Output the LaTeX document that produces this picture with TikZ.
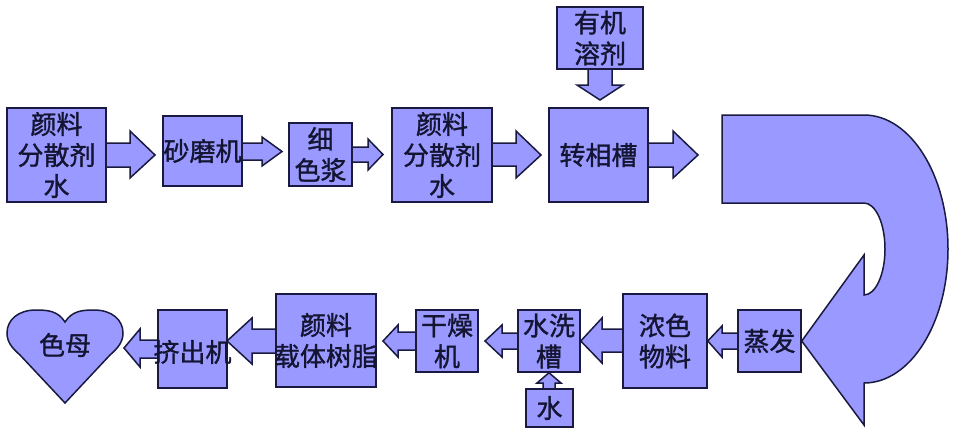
\documentclass[tikz,border=0pt]{standalone}
\usepackage{fontspec}
\newfontfamily\cjk{Noto Sans CJK SC}[FakeBold=1.2]
\usetikzlibrary{calc,backgrounds}
\definecolor{boxfill}{HTML}{9999FF}
\definecolor{boxline}{HTML}{1A1A40}
\definecolor{boxtext}{HTML}{141433}
% box: name, x1, y1, x2, y2, text
\newcommand\procbox[6]{%
  \node[box, minimum width={#4-#2}, minimum height={#5-#3}] (#1) at ({(#2+#4)/2},{(#3+#5)/2}) {};
  \node[lbl] (#1-t) at (#1.center) {#6};
}
% horizontal block arrow: start anchor, tip, shaft top, shaft bottom, head top, head bottom, head base x
\newcommand\harr[7]{%
  \begin{pgfonlayer}{background}
  \draw[blk] (#1 |- 0,#3) -- (#7,#3) -- (#7,#5) -- (#2) -- (#7,#6) -- (#7,#4) -- (#1 |- 0,#4);
  \end{pgfonlayer}
}
% vertical block arrow: start anchor, tip, shaft left, shaft right, head left, head right, head base y
\newcommand\varr[7]{%
  \begin{pgfonlayer}{background}
  \draw[blk] (#1 -| #3,0) -- (#3,#7) -- (#5,#7) -- (#2) -- (#6,#7) -- (#4,#7) -- (#1 -| #4,0);
  \end{pgfonlayer}
}
\begin{document}
\begin{tikzpicture}[x=1pt, y=-1pt,
  box/.style={draw=boxline, fill=boxfill, line width=1.5pt, inner sep=0pt},
  lbl/.style={text=boxtext, font=\cjk\fontsize{26}{31}\selectfont, align=center, inner sep=0pt},
  blk/.style={draw=boxline, fill=boxfill, line width=1.5pt, line join=miter}]
\useasboundingbox (0,0) rectangle (959,437);
\begin{pgfonlayer}{background}
\fill[white] (0,0) rectangle (959,437);
\end{pgfonlayer}

% top row
\procbox{b1}{7}{108}{106}{202}{颜料\\分散剂\\水}
\procbox{b2}{163}{116}{242}{186}{砂磨机}
\procbox{b3}{289}{123}{352}{186}{细\\色浆}
\procbox{b4}{392}{108}{492}{202}{颜料\\分散剂\\水}
\procbox{b5}{549}{108}{648}{202}{转相槽}
\procbox{b6}{557}{7}{643}{69}{有机\\溶剂}

\coordinate (t1) at (155,155);
\coordinate (t2) at (282,151.5);
\coordinate (t3) at (383,154.5);
\coordinate (t4) at (541,155);
\coordinate (t5) at (698,155);
\coordinate (t6) at (600,100);
\harr{b1.east}{t1}{143}{167}{131}{178}{130}
\harr{b2.east}{t2}{143}{160}{137}{166}{262}
\harr{b3.east}{t3}{147}{162}{139}{170}{368}
\harr{b4.east}{t4}{143}{166}{131}{178}{516}
\harr{b5.east}{t5}{143}{167}{131}{178}{673}
\varr{b6.south}{t6}{588}{612}{577}{623}{85}

% bottom row
\procbox{zf}{738}{310}{801}{372}{蒸发}
\procbox{nd}{623}{294}{707}{388}{浓色\\物料}
\procbox{xx}{518}{310}{580}{372}{水洗\\槽}
\procbox{sw}{526}{389}{573}{427}{水}
\procbox{gz}{416}{310}{478}{372}{干燥\\机}
\procbox{yz}{276}{294}{376}{387}{颜料\\载体树脂}
\procbox{jc}{158}{310}{227}{388}{}
\node[lbl] (jc-t2) at (192.5,352) {挤出机};

\coordinate (t7) at (485,341);
\coordinate (t8) at (383,341);
\coordinate (t9) at (227,341);
\coordinate (t10) at (124,348);
\harr{zf.west}{nd.east}{333}{349}{326}{357}{722}
\harr{nd.west}{xx.east}{329}{352}{318}{363}{602}
\harr{xx.west}{t7}{333}{349}{325}{357}{502}
\harr{gz.west}{t8}{332}{350}{325}{357}{398}
\harr{yz.west}{t9}{329}{353}{318}{364}{252}
\harr{jc.west}{t10}{340}{358}{329}{367}{140}
\varr{sw.north}{xx.south}{543}{555}{537}{561}{383}

% curved U-turn arrow
\coordinate (cv) at (722,115);
\draw[blk] (cv) -- (864,115)
  .. controls (910.4,115) and (948,175) .. (948,249)
  .. controls (948,323) and (910.4,383) .. (864,383)
  -- (864,425) -- (zf.east) -- (864,255) -- (864,295)
  .. controls (875.6,295) and (885,274.4) .. (885,249)
  .. controls (885,223.6) and (875.6,203) .. (864,203)
  -- (722,203) -- cycle;

% heart
\draw[blk] (65,322) .. controls (58,311) and (48,310) .. (36,310)
  .. controls (18,310) and (7,320) .. (7,333)
  .. controls (7,342) and (12,348) .. (20,355)
  -- (65,403) -- (110,355)
  .. controls (118,348) and (123,342) .. (123,333)
  .. controls (123,320) and (112,310) .. (94,310)
  .. controls (82,310) and (72,311) .. (65,322) -- cycle;
\node[lbl] (hm) at (65,345) {色母};
\end{tikzpicture}
\end{document}
